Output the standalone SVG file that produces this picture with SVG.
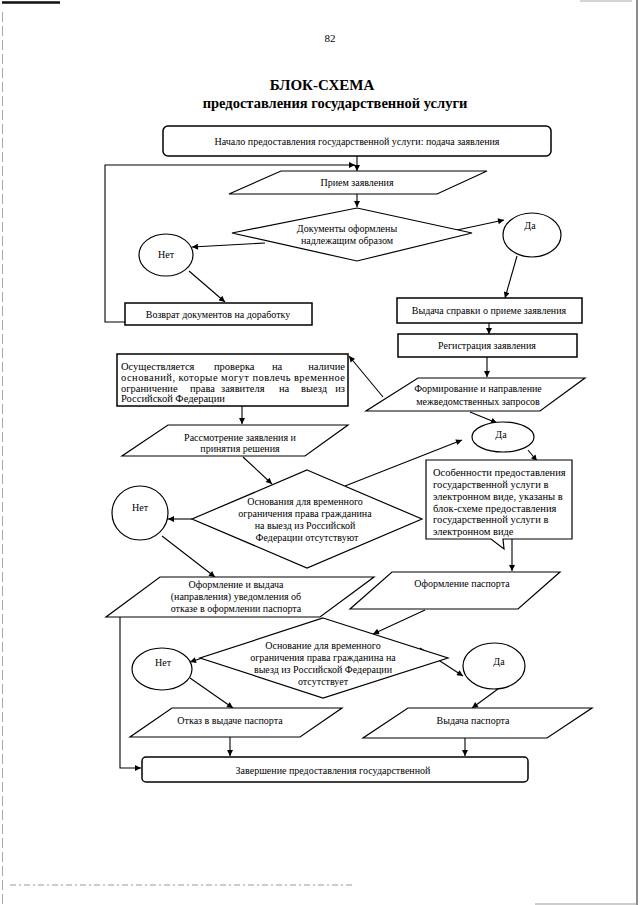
<svg xmlns="http://www.w3.org/2000/svg" width="640" height="905" viewBox="0 0 640 905">
<defs>
<marker id="ah" viewBox="0 0 10 10" refX="10" refY="5" markerWidth="7" markerHeight="6" markerUnits="userSpaceOnUse" orient="auto"><path d="M0,0 L10,5 L0,10 z" fill="#000"/></marker>
</defs>
<style>
.t{font-size:10px;text-anchor:middle;}
.tl{font-size:10.5px;}
.sh{fill:#fff;stroke:#000;stroke-width:1.2;}
.bx{fill:#fff;stroke:#000;stroke-width:1.5;}
.ar{fill:none;stroke:#000;stroke-width:1.1;marker-end:url(#ah);}
</style>
<rect width="640" height="905" fill="#fff"/>
<g id="page-edges" fill="none">
<line x1="637" y1="0" x2="637" y2="905" stroke="#666" stroke-width="1.5"/>
<line x1="2.5" y1="12" x2="2.5" y2="905" stroke="#aaa" stroke-dasharray="10 4"/>
<line x1="2" y1="2.5" x2="60" y2="2.5" stroke="#111" stroke-width="2.5"/>
<line x1="580" y1="1" x2="632" y2="1" stroke="#aaa"/>
<line x1="10" y1="885" x2="352" y2="885" stroke="#999" stroke-dasharray="6 3 2 3"/>
<line x1="535" y1="904" x2="637" y2="904" stroke="#999"/>
</g>
<g font-family="'Liberation Serif', 'Times New Roman', 'DejaVu Serif', serif" fill="#000">
<g id="header">
<text x="330" y="42" font-size="11" text-anchor="middle">82</text>
<text x="322" y="90" font-size="15" font-weight="bold" text-anchor="middle">БЛОК-СХЕМА</text>
<text x="335" y="108" font-size="14.5" font-weight="bold" text-anchor="middle">предоставления государственной услуги</text>
</g>
<g id="connectors">
<path class="ar" d="M357,156 V171"/>
<path class="ar" d="M125,322 H105 V165 H355"/>
<path class="ar" d="M357,194 V207"/>
<path class="ar" d="M265,243 L192,247"/>
<path class="ar" d="M457,230 L504,220"/>
<path class="ar" d="M517,256 L505,298"/>
<path class="ar" d="M189,271 L225,302"/>
<path class="ar" d="M489,323 V334"/>
<path class="ar" d="M487,357 V377"/>
<path class="ar" d="M383,397 L349,356"/>
<path class="ar" d="M242,406 V424"/>
<path class="ar" d="M470,412 L497,423"/>
<path class="ar" d="M528,450 L537,461"/>
<path class="ar" d="M243,457 L272,484"/>
<path class="ar" d="M345,486 L462,440"/>
<path class="ar" d="M192,519 L168,519"/>
<path class="ar" d="M162,536 L215,577"/>
<path class="ar" d="M512,539 V571"/>
<path class="ar" d="M425,610 L373,634"/>
<path class="ar" d="M233,648 L190,662"/>
<path class="ar" d="M420,648 L463,676"/>
<path class="ar" d="M190,678 L233,708"/>
<path class="ar" d="M498,689 L472,708"/>
<path class="ar" d="M230,737 V756"/>
<path class="ar" d="M465,738 V756"/>
<path class="ar" d="M120,617 V768 H141"/>
</g>
<g id="n-start">
<rect class="bx" x="163" y="126" width="388" height="30" rx="5"/>
<text class="t" x="357" y="145">Начало предоставления государственной услуги: подача заявления</text>
</g>
<g id="n-priem">
<polygon class="sh" points="281,171 487,171 437,194 229,194"/>
<text class="t" x="357" y="186">Прием заявления</text>
</g>
<g id="n-dec1">
<polygon class="sh" points="357,208 472,233 357,261 232,233"/>
<text class="t" x="347" y="232">Документы оформлены</text>
<text class="t" x="347" y="244">надлежащим образом</text>
</g>
<g id="n-net1">
<ellipse class="sh" cx="166" cy="255" rx="27" ry="21"/>
<text class="t" x="166" y="258">Нет</text>
</g>
<g id="n-da1">
<ellipse class="sh" cx="532" cy="235" rx="29" ry="22"/>
<text class="t" x="530" y="229">Да</text>
</g>
<g id="n-vozvrat">
<rect class="bx" x="125" y="303" width="187" height="22"/>
<text class="t" x="218" y="318">Возврат документов на доработку</text>
</g>
<g id="n-vydacha-spravki">
<rect class="bx" x="397" y="298" width="185" height="25"/>
<text class="t" x="489" y="314">Выдача справки о приеме заявления</text>
</g>
<g id="n-registr">
<rect class="bx" x="398" y="334" width="179" height="23"/>
<text class="t" x="487" y="349">Регистрация заявления</text>
</g>
<g id="n-formir">
<polygon class="sh" points="418,378 585,378 540,411 366,411"/>
<text class="t" x="478" y="392">Формирование и направление</text>
<text class="t" x="478" y="405">межведомственных запросов</text>
</g>
<g id="n-proverka">
<rect class="bx" x="117" y="354" width="231" height="52"/>
<text class="tl" x="121" y="369.5">Осуществляется</text>
<text class="tl" x="214" y="369.5">проверка</text>
<text class="tl" x="272" y="369.5">на</text>
<text class="tl" x="345" y="369.5" text-anchor="end">наличие</text>
<text class="tl" x="121" y="380.5" textLength="224" lengthAdjust="spacing">оснований, которые могут повлечь временное</text>
<text class="tl" x="121" y="391.5">ограничение</text>
<text class="tl" x="190" y="391.5">права</text>
<text class="tl" x="221" y="391.5">заявителя</text>
<text class="tl" x="279" y="391.5">на</text>
<text class="tl" x="301" y="391.5">выезд</text>
<text class="tl" x="345" y="391.5" text-anchor="end">из</text>
<text class="tl" x="121" y="402">Российской Федерации</text>
</g>
<g id="n-rassm">
<polygon class="sh" points="168,425 348,425 305,456 122,456"/>
<text class="t" x="240" y="440.5">Рассмотрение заявления и</text>
<text class="t" x="240" y="452">принятия решения</text>
</g>
<g id="n-da2">
<ellipse class="sh" cx="503" cy="437" rx="31" ry="15"/>
<text class="t" x="501" y="438">Да</text>
</g>
<g id="n-osob">
<path class="sh" d="M426,460 H572 V539 H503 L504,549 L491,539 H426 Z"/>
<text class="tl" x="433" y="476">Особенности предоставления</text>
<text class="tl" x="433" y="488">государственной услуги в</text>
<text class="tl" x="433" y="500">электронном виде, указаны в</text>
<text class="tl" x="433" y="511.5">блок-схеме предоставления</text>
<text class="tl" x="433" y="523">государственной услуги в</text>
<text class="tl" x="433" y="535">электронном виде</text>
</g>
<g id="n-dec2">
<polygon class="sh" points="307,470 422,519 307,568 192,519"/>
<text class="t" x="305" y="504.5">Основания для временного</text>
<text class="t" x="305" y="516.5">ограничения  права гражданина</text>
<text class="t" x="305" y="528.5">на выезд из Российской</text>
<text class="t" x="307" y="540.5">Федерации  отсутствуют</text>
</g>
<g id="n-net2">
<ellipse class="sh" cx="140" cy="513" rx="28" ry="27"/>
<text class="t" x="140" y="511">Нет</text>
</g>
<g id="n-otkaz-uved">
<polygon class="sh" points="160,577 374,577 320,617 106,617"/>
<text class="t" x="236" y="588">Оформление и выдача</text>
<text class="t" x="236" y="600">(направления) уведомления об</text>
<text class="t" x="236" y="612">отказе в оформлении паспорта</text>
</g>
<g id="n-oform-pasp">
<polygon class="sh" points="392,572 560,572 518,609 350,609"/>
<text class="t" x="462" y="587">Оформление паспорта</text>
</g>
<g id="n-dec3">
<polygon class="sh" points="323,618 448,658 323,698 200,658"/>
<text class="t" x="323" y="649">Основание для временного</text>
<text class="t" x="323" y="661">ограничения права гражданина на</text>
<text class="t" x="323" y="673">выезд из Российской Федерации</text>
<text class="t" x="323" y="685">отсутствует</text>
</g>
<g id="n-net3">
<ellipse class="sh" cx="162" cy="669" rx="30" ry="21"/>
<text class="t" x="163" y="666">Нет</text>
</g>
<g id="n-da3">
<ellipse class="sh" cx="494" cy="666" rx="31" ry="23"/>
<text class="t" x="499" y="665">Да</text>
</g>
<g id="n-otkaz">
<polygon class="sh" points="172,708 342,708 300,737 130,737"/>
<text class="t" x="230" y="724">Отказ в выдаче паспорта</text>
</g>
<g id="n-vydacha-pasp">
<polygon class="sh" points="408,708 592,708 547,738 363,738"/>
<text class="t" x="473" y="724">Выдача паспорта</text>
</g>
<g id="n-end">
<rect class="bx" x="142" y="757" width="386" height="25" rx="4"/>
<text class="t" x="333" y="774">Завершение предоставления государственной</text>
</g>
</g>
</svg>
